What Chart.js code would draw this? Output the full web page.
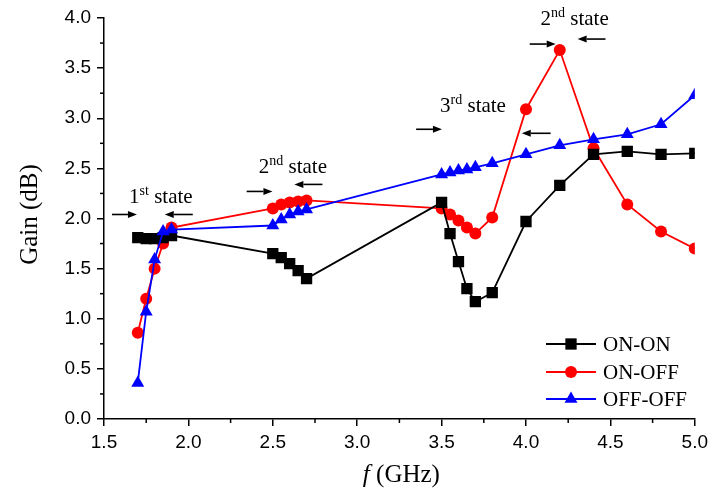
<!DOCTYPE html>
<html><head><meta charset="utf-8">
<script src="https://cdn.jsdelivr.net/npm/chart.js@4/dist/chart.umd.min.js"></script>
<style>html,body{margin:0;padding:0;background:#fff}canvas{display:block}</style>
</head><body>
<canvas id="c" width="713" height="492"></canvas>
<script>
// ---- data ----
const freqs = [1.7,1.75,1.8,1.85,1.9,2.5,2.55,2.6,2.65,2.7,3.5,3.55,3.6,3.65,3.7,3.8,4.0,4.2,4.4,4.6,4.8,5.0];
const onOn  = [1.81,1.80,1.80,1.81,1.83,1.65,1.61,1.55,1.48,1.40,2.16,1.85,1.57,1.30,1.17,1.26,1.97,2.33,2.64,2.67,2.64,2.65];
const onOff = [0.86,1.20,1.50,1.75,1.91,2.10,2.14,2.16,2.17,2.18,2.10,2.04,1.98,1.91,1.85,2.01,3.09,3.68,2.70,2.14,1.87,1.70];
const offOff= [0.36,1.07,1.59,1.87,1.89,1.93,1.99,2.04,2.07,2.09,2.44,2.46,2.48,2.49,2.51,2.55,2.64,2.73,2.79,2.84,2.94,3.23];
const seriesNames = ['ON-ON','ON-OFF','OFF-OFF'];
const xTickValues = [1.5,2.0,2.5,3.0,3.5,4.0,4.5,5.0];
const yTickValues = [0,0.5,1.0,1.5,2.0,2.5,3.0,3.5,4.0];
const stateNums = ['1','2','3','2'];
const stateSups = ['st','nd','rd','nd'];
const yTitle = 'Gain (dB)';
const xTitleItalic = 'f';
const xTitleRest = ' (GHz)';

// ---- annotation placement (data coordinates) ----
const annotPos = [
  {tx:1.837, ty:2.15, r:[1.547,1.695,2.04], l:[2.026,1.860,2.04]},
  {tx:2.619, ty:2.45, r:[2.345,2.498,2.27], l:[2.794,2.628,2.34]},
  {tx:3.686, ty:3.06, r:[3.349,3.502,2.89], l:[4.146,3.975,2.85]},
  {tx:4.288, ty:3.93, r:[4.022,4.176,3.74], l:[4.471,4.306,3.79]}
];

const SERIF = '"Liberation Serif","Times New Roman",serif';
const SANS = '"Liberation Sans",Arial,sans-serif';

const styles = [
  {color:'#000000', pointStyle:'rect', radius:8, order:1},
  {color:'#ff0000', pointStyle:'circle', radius:6, order:2},
  {color:'#0000ff', pointStyle:'triangle', radius:7.5, order:0}
];
const values = [onOn, onOff, offOff];

const datasets = values.map((vals, i) => ({
  label: seriesNames[i],
  data: freqs.map((f, j) => ({x: f, y: vals[j]})),
  borderColor: styles[i].color,
  backgroundColor: styles[i].color,
  pointBackgroundColor: styles[i].color,
  pointBorderColor: styles[i].color,
  pointStyle: styles[i].pointStyle,
  pointRadius: styles[i].radius,
  pointHoverRadius: styles[i].radius,
  pointBorderWidth: 0,
  borderWidth: 1.8,
  tension: 0,
  fill: false,
  order: styles[i].order
}));

function arrow(ctx, x1, y1, x2, y2) {
  const ang = Math.atan2(y2 - y1, x2 - x1);
  const hl = 9, hw = 3.5;
  const bx = x2 - hl * Math.cos(ang), by = y2 - hl * Math.sin(ang);
  ctx.beginPath();
  ctx.moveTo(x1, y1); ctx.lineTo(bx, by); ctx.stroke();
  ctx.beginPath();
  ctx.moveTo(x2, y2);
  ctx.lineTo(bx + hw * Math.sin(ang), by - hw * Math.cos(ang));
  ctx.lineTo(bx - hw * Math.sin(ang), by + hw * Math.cos(ang));
  ctx.closePath(); ctx.fill();
}

const extras = {
  id: 'extras',
  afterDraw(chart) {
    const ctx = chart.ctx, xs = chart.scales.x, ys = chart.scales.y;
    ctx.save();
    // minor ticks
    ctx.strokeStyle = '#000'; ctx.lineWidth = 1.5;
    for (let i = 0; i < xTickValues.length - 1; i++) {
      const v = (xTickValues[i] + xTickValues[i+1]) / 2;
      const px = xs.getPixelForValue(v);
      ctx.beginPath(); ctx.moveTo(px, ys.bottom); ctx.lineTo(px, ys.bottom + 4); ctx.stroke();
    }
    for (let i = 0; i < yTickValues.length - 1; i++) {
      const v = (yTickValues[i] + yTickValues[i+1]) / 2;
      const py = ys.getPixelForValue(v);
      ctx.beginPath(); ctx.moveTo(xs.left, py); ctx.lineTo(xs.left - 4, py); ctx.stroke();
    }
    // annotations
    ctx.fillStyle = '#000'; ctx.strokeStyle = '#000'; ctx.lineWidth = 1.6;
    annotPos.forEach((a, i) => {
      arrow(ctx, xs.getPixelForValue(a.r[0]), ys.getPixelForValue(a.r[2]), xs.getPixelForValue(a.r[1]), ys.getPixelForValue(a.r[2]));
      arrow(ctx, xs.getPixelForValue(a.l[0]), ys.getPixelForValue(a.l[2]), xs.getPixelForValue(a.l[1]), ys.getPixelForValue(a.l[2]));
      const big = '21px ' + SERIF, small = '14px ' + SERIF;
      ctx.font = big; const wN = ctx.measureText(stateNums[i]).width;
      const wS = ctx.measureText(' state').width;
      ctx.font = small; const wSup = ctx.measureText(stateSups[i]).width;
      const total = wN + wSup + wS;
      let x = xs.getPixelForValue(a.tx) - total / 2;
      const y = ys.getPixelForValue(a.ty);
      ctx.textBaseline = 'alphabetic'; ctx.textAlign = 'left';
      ctx.font = big; ctx.fillText(stateNums[i], x, y); x += wN;
      ctx.font = small; ctx.fillText(stateSups[i], x, y - 8); x += wSup;
      ctx.font = big; ctx.fillText(' state', x, y);
    });
    // axis titles
    ctx.font = '25px ' + SERIF;
    ctx.save();
    ctx.translate(30, (ys.top + ys.bottom) / 2 - 4);
    ctx.rotate(-Math.PI / 2);
    ctx.textAlign = 'center'; ctx.textBaseline = 'middle';
    ctx.fillText(yTitle, 0, 0);
    ctx.restore();
    ctx.font = 'italic 25px ' + SERIF;
    const wf = ctx.measureText(xTitleItalic).width;
    ctx.font = '25px ' + SERIF;
    const wr = ctx.measureText(xTitleRest).width;
    let tx = (xs.left + xs.right) / 2 + 2 - (wf + wr) / 2;
    ctx.textAlign = 'left'; ctx.textBaseline = 'alphabetic';
    ctx.font = 'italic 25px ' + SERIF; ctx.fillText(xTitleItalic, tx, 482);
    ctx.font = '25px ' + SERIF; ctx.fillText(xTitleRest, tx + wf, 482);
    // legend
    const rowsY = [344, 372, 399];
    chart.data.datasets.forEach((ds, i) => {
      const y = rowsY[i];
      ctx.strokeStyle = ds.borderColor; ctx.fillStyle = ds.backgroundColor; ctx.lineWidth = 1.8;
      ctx.beginPath(); ctx.moveTo(546, y); ctx.lineTo(596, y); ctx.stroke();
      Chart.helpers.drawPoint(ctx, {pointStyle: ds.pointStyle, radius: ds.pointRadius, rotation: 0, borderWidth: 0}, 571, y);
      ctx.fillStyle = '#000'; ctx.font = '21px ' + SERIF; ctx.textBaseline = 'middle'; ctx.textAlign = 'left';
      ctx.fillText(ds.label, 603, y + 1);
    });
    ctx.restore();
  }
};

new Chart(document.getElementById('c'), {
  type: 'line',
  data: { datasets },
  options: {
    responsive: false,
    animation: false,
    devicePixelRatio: 1,
    layout: { padding: { left: 0, right: 16, top: 18, bottom: 0 } },
    plugins: { legend: { display: false }, tooltip: { enabled: false } },
    scales: {
      x: {
        type: 'linear', min: 1.5, max: 5.0,
        afterFit(s) { s.height = 73; },
        afterBuildTicks(s) { s.ticks = xTickValues.map(v => ({value: v})); },
        ticks: { callback: v => v.toFixed(1), font: { family: SANS, size: 19 }, color: '#000', padding: 5, maxRotation: 0, autoSkip: false },
        grid: { display: true, drawOnChartArea: false, drawTicks: true, tickLength: 7, color: '#000', lineWidth: 1.5 },
        border: { display: true, color: '#000', width: 1.5 }
      },
      y: {
        type: 'linear', min: 0, max: 4.0,
        afterFit(s) { s.width = 104; },
        afterBuildTicks(s) { s.ticks = yTickValues.map(v => ({value: v})); },
        ticks: { callback: v => v.toFixed(1), font: { family: SANS, size: 19 }, color: '#000', padding: 6, autoSkip: false },
        grid: { display: true, drawOnChartArea: false, drawTicks: true, tickLength: 7, color: '#000', lineWidth: 1.5 },
        border: { display: true, color: '#000', width: 1.5 }
      }
    }
  },
  plugins: [extras]
});
</script>
</body></html>
